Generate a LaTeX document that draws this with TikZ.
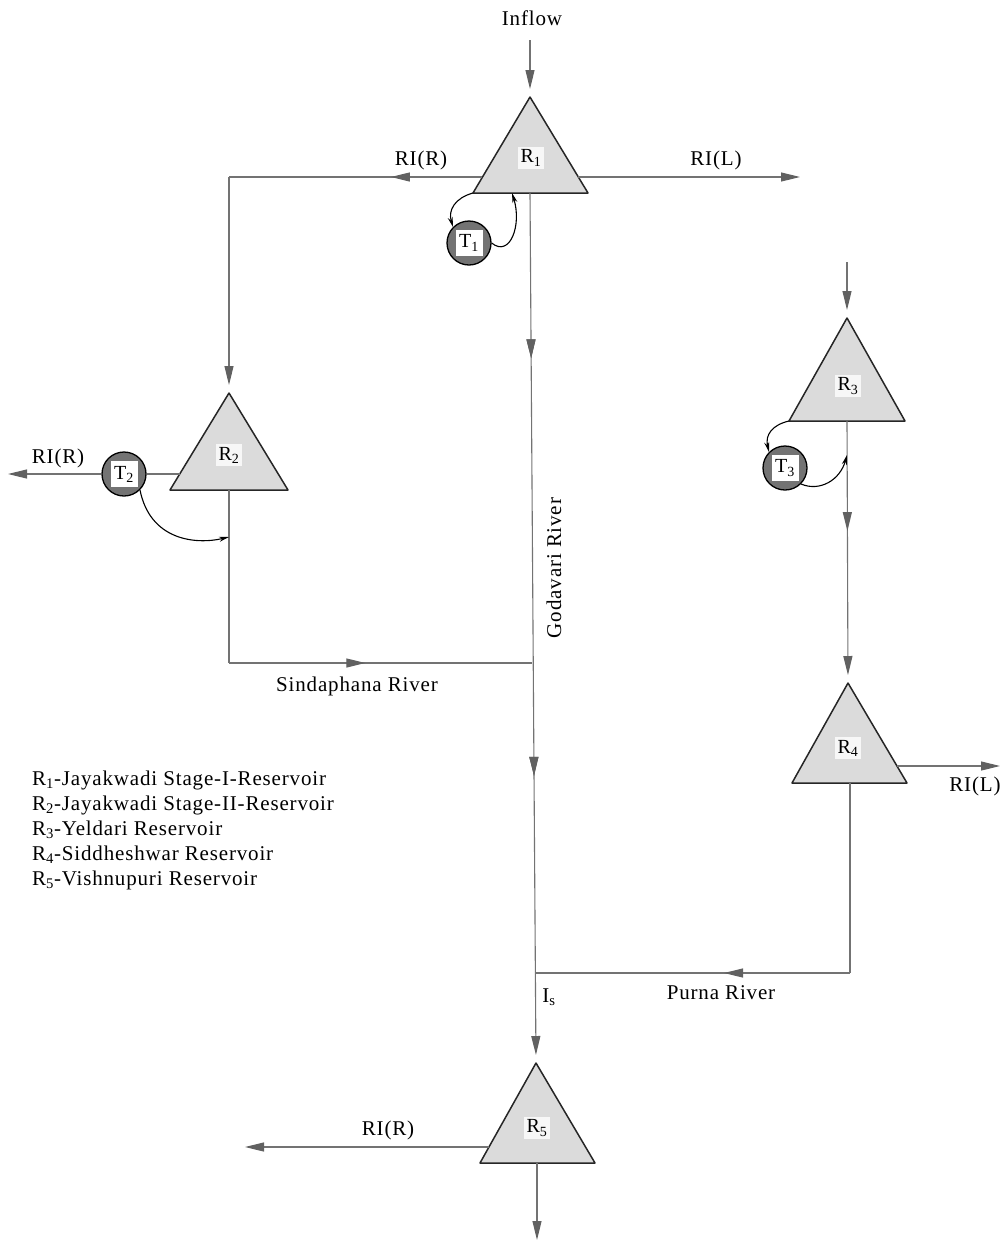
\documentclass[tikz,border=0pt]{standalone}
\usepackage{fontspec}
\setmainfont{Liberation Serif}[LetterSpace=4]
\usetikzlibrary{arrows.meta,decorations.markings}
\begin{document}
\begin{tikzpicture}[x=1pt,y=-1pt,
  flow/.style={draw=black!55, line width=1.1pt},
  tip/.style={-{Triangle[length=19pt,width=9pt,fill=black!62,black!62]}},
  into/.style={tip, shorten >=8pt},
  midarrow/.style={postaction={decorate},decoration={markings,mark=at position #1 with {\arrow{Triangle[length=19pt,width=9pt,fill=black!62,black!62]}}}},
  res/.style={draw=black!85, line width=1.5pt, fill=black!14, line join=round},
  reslabel/.style={fill=black!3, inner sep=3pt, font=\fontsize{20}{22}\selectfont},
  tank/.style={circle, draw=black, line width=1.3pt, fill=black!55, minimum size=44pt, inner sep=0pt},
  tanklabel/.style={fill=white, inner sep=1pt, minimum width=27pt, minimum height=26pt, font=\fontsize{20}{22}\selectfont},
  txt/.style={font=\fontsize{21}{23}\selectfont, inner sep=1pt},
  loop/.style={draw=black, line width=1.1pt, -{Stealth[length=10pt,width=5pt]}}
]
\useasboundingbox (0,0) rectangle (1006,1243);

% ---- reservoirs (triangles) ----
\coordinate (R1a) at (530,97);  \coordinate (R1l) at (473,193); \coordinate (R1r) at (588,193);
\coordinate (R2a) at (229,393); \coordinate (R2l) at (170,490); \coordinate (R2r) at (288,490);
\coordinate (R3a) at (847,318); \coordinate (R3l) at (789,421); \coordinate (R3r) at (905,421);
\coordinate (R4a) at (848,683); \coordinate (R4l) at (792,783); \coordinate (R4r) at (907,783);
\coordinate (R5a) at (536,1063); \coordinate (R5l) at (480,1163); \coordinate (R5r) at (595,1163);
\draw[res] (R1a) -- (R1l) -- (R1r) -- cycle;
\draw[res] (R2a) -- (R2l) -- (R2r) -- cycle;
\draw[res] (R3a) -- (R3l) -- (R3r) -- cycle;
\draw[res] (R4a) -- (R4l) -- (R4r) -- cycle;
\draw[res] (R5a) -- (R5l) -- (R5r) -- cycle;
\node[reslabel] (R1) at (531,158) {R\textsubscript{1}};
\node[reslabel] (R2) at (229,455) {R\textsubscript{2}};
\node[reslabel] (R3) at (848,386) {R\textsubscript{3}};
\node[reslabel] (R4) at (848,748) {R\textsubscript{4}};
\node[reslabel] (R5) at (537,1128) {R\textsubscript{5}};

% ---- tanks ----
\node[tank] (T1c) at (469,243) {};
\node[tanklabel] (T1) at (T1c) {T\textsubscript{1}};
\node[tank] (T2c) at (124,474) {};
\node[tanklabel] (T2) at (T2c) {T\textsubscript{2}};
\node[tank] (T3c) at (785,468) {};
\node[tanklabel] (T3) at (T3c) {T\textsubscript{3}};

% ---- helper coordinates ----
\coordinate (inflowtop) at (530,40);
\coordinate (R1L) at (482,177);
\coordinate (R1R) at (578,177);
\coordinate (cornerA) at (229,177);
\coordinate (RILend) at (800,177);
\coordinate (R1b) at (530,193);
\coordinate (R2L) at (180,474);
\coordinate (RIR2end) at (8,474);
\coordinate (R2b) at (229,490);
\coordinate (cornerB) at (229,663);
\coordinate (junB) at (532,663);
\coordinate (R3top) at (847,262);
\coordinate (R3b) at (847,421);
\coordinate (R4R) at (897,766);
\coordinate (RIL4end) at (1000,766);
\coordinate (R4b) at (850,783);
\coordinate (cornerC) at (850,973);
\coordinate (junC) at (535,973);
\coordinate (R5L) at (489,1147);
\coordinate (RIR5end) at (245,1147);
\coordinate (R5b) at (537,1163);
\coordinate (outend) at (537,1240);
\coordinate (T2join) at (229,537);
\coordinate (T3join) at (847,455);

% ---- flows ----
\draw[flow,into] (inflowtop) -- (R1a);
\draw[flow,midarrow=0.36] (R1L) -- (cornerA);
\draw[flow,into] (cornerA) -- (R2a);
\draw[flow,tip] (R1R) -- (RILend);
\draw[flow,midarrow=0.19,midarrow=0.67,into] (R1b) -- (R5a);
\draw[flow] (R2L) -- (T2c.east);
\draw[flow,tip] (T2c.west) -- (RIR2end);
\draw[flow] (R2b) -- (cornerB);
\draw[flow,midarrow=0.45] (cornerB) -- (junB);
\draw[flow,into] (R3top) -- (R3a);
\draw[flow,midarrow=0.42,into] (R3b) -- (R4a);
\draw[flow,tip] (R4R) -- (RIL4end);
\draw[flow] (R4b) -- (cornerC);
\draw[flow,midarrow=0.40] (cornerC) -- (junC);
\draw[flow,tip] (R5L) -- (RIR5end);
\draw[flow,tip] (R5b) -- (outend);

% ---- tank loops ----
\draw[loop] (R1l) .. controls (455,198) and (448,210) .. (T1c.north west);
\draw[loop] (T1c.east) .. controls (510,258) and (522,225) .. (512,193);
\draw[loop] (T2c.south east) .. controls (150,540) and (195,545) .. (T2join);
\draw[loop] (R3l) .. controls (772,425) and (765,435) .. (T3c.north west);
\draw[loop] (T3c.south east) .. controls (820,492) and (840,480) .. (T3join);

% ---- labels ----
\node[txt] (inflow) at (532,18) {Inflow};
\node[txt] (rir1) at (421,160) {RI(R)};
\node[txt] (ril1) at (716,160) {RI(L)};
\node[txt, rotate=90] (godavari) at (554,568) {Godavari River};
\node[txt] (rir2) at (58,458) {RI(R)};
\node[txt] (sinda) at (357,686) {Sindaphana River};
\node[txt] (ril4) at (975,786) {RI(L)};
\node[txt] (purna) at (721,993) {Purna River};
\node[txt] (is) at (549,997) {I\textsubscript{s}};
\node[txt] (rir5) at (388,1130) {RI(R)};

% ---- legend ----
\node[txt, anchor=west] (l1) at (31,780) {R\textsubscript{1}-Jayakwadi Stage-I-Reservoir};
\node[txt, anchor=west] (l2) at (31,805) {R\textsubscript{2}-Jayakwadi Stage-II-Reservoir};
\node[txt, anchor=west] (l3) at (31,830) {R\textsubscript{3}-Yeldari Reservoir};
\node[txt, anchor=west] (l4) at (31,855) {R\textsubscript{4}-Siddheshwar Reservoir};
\node[txt, anchor=west] (l5) at (31,880) {R\textsubscript{5}-Vishnupuri Reservoir};
\end{tikzpicture}
\end{document}
